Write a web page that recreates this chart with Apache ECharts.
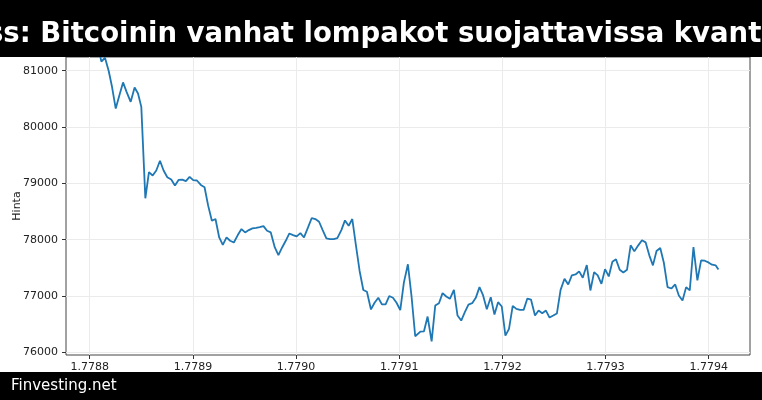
<!DOCTYPE html>
<html>
<head>
<meta charset="utf-8">
<script src="https://cdn.jsdelivr.net/npm/echarts@6/dist/echarts.min.js"></script>
<style>html,body{margin:0;padding:0;background:#fff;}#c{width:762px;height:400px;}</style>
</head>
<body>
<div id="c"></div>
<script>
var times = [1.7788077,1.7788113,1.7788148,1.7788184,1.7788216,1.7788252,1.7788287,1.7788323,1.7788358,1.7788397,
1.7788435,1.7788468,1.7788500,1.7788539,1.7788574,1.7788610,1.7788645,1.7788681,1.7788716,1.7788752,
1.7788790,1.7788826,1.7788861,1.7788897,1.7788932,1.7788968,1.7789003,1.7789039,1.7789077,1.7789113,
1.7789148,1.7789184,1.7789219,1.7789255,1.7789290,1.7789326,1.7789361,1.7789397,1.7789435,1.7789471,
1.7789506,1.7789542,1.7789577,1.7789613,1.7789648,1.7789684,1.7789719,1.7789755,1.7789794,1.7789829,
1.7789865,1.7789900,1.7789935,1.7789971,1.7790006,1.7790042,1.7790077,1.7790116,1.7790152,1.7790187,
1.7790223,1.7790258,1.7790294,1.7790329,1.7790365,1.7790400,1.7790439,1.7790474,1.7790510,1.7790545,
1.7790581,1.7790616,1.7790652,1.7790687,1.7790726,1.7790761,1.7790797,1.7790832,1.7790868,1.7790903,
1.7790939,1.7790974,1.7791010,1.7791045,1.7791084,1.7791119,1.7791155,
1.7791205,1.7791240,1.7791275,1.7791314,1.7791349,1.7791385,1.7791420,1.7791456,1.7791491,1.7791530,
1.7791565,1.7791601,1.7791636,1.7791671,1.7791707,1.7791742,1.7791778,1.7791813,1.7791849,1.7791887,
1.7791923,1.7791958,1.7791994,1.7792029,1.7792064,1.7792100,1.7792135,1.7792171,1.7792206,1.7792242,
1.7792277,1.7792316,1.7792351,1.7792386,1.7792422,1.7792457,1.7792493,1.7792528,1.7792564,1.7792602,
1.7792638,1.7792673,1.7792709,1.7792744,1.7792779,1.7792818,1.7792853,1.7792889,1.7792924,1.7792960,
1.7792995,1.7793031,1.7793066,1.7793101,1.7793137,1.7793172,1.7793208,1.7793243,1.7793279,1.7793317,
1.7793353,1.7793388,1.7793424,1.7793459,1.7793494,1.7793530,1.7793565,1.7793601,1.7793639,1.7793675,
1.7793710,1.7793746,1.7793781,1.7793816,1.7793852,1.7793890,1.7793926,1.7793961,1.7793997,1.7794032,
1.7794068,1.7794094];
var prices = [81457,81160,81231,80994,80714,80328,80560,80792,80619,80447,
80702,80595,80358,78735,79198,79139,79228,79400,79228,79109,
79067,78960,79061,79067,79038,79115,79056,79050,78972,78931,
78604,78336,78366,78039,77908,78039,77980,77950,78081,78188,
78128,78170,78200,78211,78223,78241,78158,78128,77861,77724,
77861,77980,78110,78081,78057,78116,78039,78217,78384,78366,
78318,78170,78021,78009,78009,78027,78170,78342,78247,78366,
77890,77444,77106,77076,76761,76880,76969,76850,76850,76999,
76969,76880,76749,77236,77563,76999,76285,
76368,76373,76635,76195,76830,76872,77050,76991,76949,77109,
76652,76563,76712,76848,76872,76967,77157,77009,76765,76979,
76670,76890,76813,76296,76415,76825,76771,76753,76753,76955,
76937,76652,76741,76694,76741,76617,76652,76688,77109,77305,
77204,77365,77382,77436,77323,77549,77098,77424,77365,77216,
77477,77347,77608,77650,77466,77418,77466,77899,77792,77899,
77988,77952,77721,77543,77798,77851,77590,77157,77133,77204,
77009,76920,77157,77098,77869,77276,77632,77626,77596,77555,
77543,77471];
var xTicks = [1.7788,1.7789,1.7790,1.7791,1.7792,1.7793,1.7794];
var yTicks = [76000,77000,78000,79000,80000,81000];
var titleText = "ss: Bitcoinin vanhat lompakot suojattavissa kvant";
var footerText = "Finvesting.net";
var yName = "Hinta";

var data = times.map(function(t, i){ return [t, prices[i]]; });
var FONT = "DejaVu Sans";
var chart = echarts.init(document.getElementById('c'), null, {renderer: 'canvas'});
chart.setOption({
  animation: false,
  backgroundColor: '#fff',
  grid: {left: 66, right: 12, top: 57, bottom: 45, show: true, borderColor: '#444', borderWidth: 1, backgroundColor: '#fff',
    containLabel: false, outerBoundsMode: 'none'},
  xAxis: {
    type: 'value', min: 1.778777, max: 1.779440,
    axisLine: {show: false},
    axisTick: {show: true, length: 4, customValues: xTicks, lineStyle: {color: '#333'}},
    axisLabel: {customValues: xTicks, margin: 7, color: '#222', fontFamily: FONT, fontSize: 11,
      formatter: function(v){ return v.toFixed(4); }},
    splitLine: {show: true, lineStyle: {color: '#ebebeb', width: 1}}
  },
  yAxis: {
    type: 'value', min: 75952, max: 81243,
    name: yName, nameLocation: 'middle', nameGap: 43, nameRotate: 90, nameMoveOverlap: false,
    nameTextStyle: {fontFamily: FONT, fontSize: 11, color: '#222'},
    axisLine: {show: false},
    axisTick: {show: true, length: 4, customValues: yTicks, lineStyle: {color: '#333'}},
    axisLabel: {customValues: yTicks, margin: 8, color: '#222', fontFamily: FONT, fontSize: 11,
      formatter: function(v){ return String(v); }},
    splitLine: {show: true, lineStyle: {color: '#ebebeb', width: 1}}
  },
  series: [{
    type: 'line', data: data, showSymbol: false, clip: true,
    lineStyle: {color: '#1f77b4', width: 1.8}
  }],
  graphic: {
    elements: [
      {type: 'rect', z: 100, shape: {x: 0, y: 0, width: 762, height: 57}, style: {fill: '#000'}},
      {type: 'text', z: 101, x: -13, y: 35, style: {text: titleText, fill: '#fff', fontFamily: FONT, fontWeight: 'bold', fontSize: 27.5, verticalAlign: 'middle', align: 'left'}},
      {type: 'rect', z: 100, shape: {x: 0, y: 372, width: 762, height: 28}, style: {fill: '#000'}},
      {type: 'text', z: 101, x: 11, y: 386, style: {text: footerText, fill: '#fff', fontFamily: FONT, fontSize: 15, verticalAlign: 'middle', align: 'left'}}
    ]
  }
});
</script>
</body>
</html>
